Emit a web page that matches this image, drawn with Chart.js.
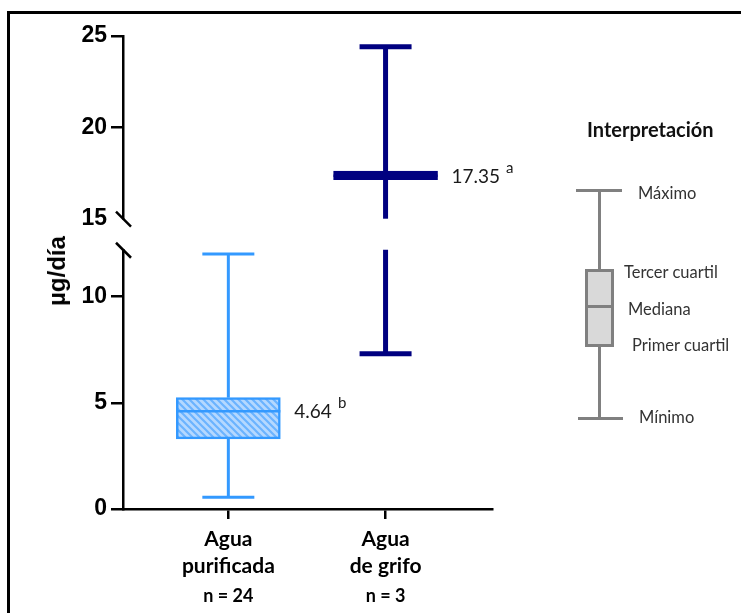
<!DOCTYPE html>
<html>
<head>
<meta charset="utf-8">
<script src="https://cdn.jsdelivr.net/npm/chart.js@4.4.1/dist/chart.umd.min.js"></script>
<style>
  body { margin: 0; background: #fff; }
  #wrap { position: relative; width: 741px; height: 613px; overflow: hidden; }
  #frame { position: absolute; left: 7px; top: 11px; width: 760px; height: 620px; border-left: 3px solid #000; border-top: 3px solid #000; }
  canvas { position: absolute; left: 0; top: 0; }
  #ytitle { position: absolute; left: 57px; top: 271px; transform: translate(-50%, -50%) rotate(-90deg);
    font: bold 24px "Liberation Sans", Arial, sans-serif; color: #000; white-space: nowrap; line-height: 1; }
  .lg { position: absolute; background: #808080; }
  .lt { position: absolute; font: 16.5px Lato, sans-serif; color: #333; line-height: 1; transform: translateY(-50%); white-space: nowrap; }
  #lgtitle { position: absolute; left: 587px; top: 129px; transform: translateY(-50%); font: bold 20px Lato, sans-serif; color: #111; line-height: 1; }
  #lgbox { position: absolute; left: 585px; top: 269px; width: 29px; height: 78px; box-sizing: border-box; border: 3px solid #808080; background: #d9d9d9; }
</style>
</head>
<body>
<div id="wrap">
  <div id="frame"></div>
  <canvas id="boxes" width="741" height="613"></canvas>
  <div id="ytitle">µg/día</div>

  <div id="lgtitle">Interpretación</div>
  <div class="lg" style="left:598px;top:191px;width:3px;height:228px;"></div>
  <div class="lg" style="left:576px;top:189px;width:46px;height:3px;"></div>
  <div class="lg" style="left:578px;top:417px;width:45px;height:3px;"></div>
  <div id="lgbox"></div>
  <div class="lg" style="left:585px;top:305px;width:29px;height:3px;"></div>
  <div class="lt" style="left:638px;top:193px;">Máximo</div>
  <div class="lt" style="left:624px;top:272px;">Tercer cuartil</div>
  <div class="lt" style="left:628px;top:309px;">Mediana</div>
  <div class="lt" style="left:632px;top:345px;">Primer cuartil</div>
  <div class="lt" style="left:639px;top:417px;">Mínimo</div>
</div>
<script>
  'use strict';

  // data
  var categories = [['Agua', 'purificada'], ['Agua', 'de grifo']];
  var sampleSizes = [24, 3];
  var minVals = [0.55, 7.31];
  var q1Vals = [3.3, 17.13];
  var medianVals = [4.6, 17.35];
  var q3Vals = [5.24, 17.6];
  var maxVals = [12.0, 24.41];
  var medianLabels = ['4.64', '17.35'];
  var groupLetters = ['b', 'a'];

  // broken y axis: two segments
  var lowRange = [0, 12.2];
  var highRange = [15, 25];
  var lowTicks = [0, 5, 10];
  var highTicks = [15, 20, 25];

  // styles
  var lightBlue = '#3399ff';
  var navy = '#000080';
  var groupColors = [lightBlue, navy];
  var whiskerWidths = [3, 5];
  var capHalf = 26;
  var boxWidth = 104;

  Chart.defaults.font.family = 'Lato, sans-serif';

  function hatch() {
    var s = 7;
    var c = document.createElement('canvas');
    c.width = s; c.height = s;
    var g = c.getContext('2d');
    g.fillStyle = '#b5d8ff';
    g.fillRect(0, 0, s, s);
    g.strokeStyle = '#6bb3ff';
    g.lineWidth = 2.2;
    g.beginPath();
    g.moveTo(0, 0); g.lineTo(s, s);
    g.moveTo(-1, s - 1); g.lineTo(1, s + 1);
    g.moveTo(s - 1, -1); g.lineTo(s + 1, 1);
    g.stroke();
    return g.createPattern(c, 'repeat');
  }

  function axisFor(v) {
    return v >= highRange[0] ? 'yHigh' : 'yLow';
  }

  var boxDatasets = categories.map(function (cat, i) {
    return {
      label: cat.join(' '),
      yAxisID: axisFor(q3Vals[i]),
      data: [{ x: i + 1, y: [q1Vals[i], q3Vals[i]] }],
      backgroundColor: i === 0 ? hatch() : navy,
      borderColor: groupColors[i],
      borderWidth: 2.5,
      borderSkipped: false,
      barThickness: boxWidth,
      grouped: false
    };
  });

  var whiskerPlugin = {
    id: 'whiskers',
    afterDatasetsDraw: function (chart) {
      var ctx = chart.ctx;
      var xs = chart.scales.x;
      var segs = [chart.scales.yLow, chart.scales.yHigh];

      function line(x0, y0, x1, y1, color, w) {
        ctx.beginPath();
        ctx.moveTo(x0, y0);
        ctx.lineTo(x1, y1);
        ctx.strokeStyle = color;
        ctx.lineWidth = w;
        ctx.stroke();
      }
      function vline(x, v0, v1, color, w) {
        segs.forEach(function (s) {
          var a = Math.max(v0, s.min), b = Math.min(v1, s.max);
          if (a >= b) return;
          line(x, s.getPixelForValue(a), x, s.getPixelForValue(b), color, w);
        });
      }
      function ypix(v) {
        return chart.scales[axisFor(v)].getPixelForValue(v);
      }

      ctx.save();
      ctx.lineCap = 'butt';
      categories.forEach(function (cat, i) {
        var x = xs.getPixelForValue(i + 1);
        var col = groupColors[i], w = whiskerWidths[i];
        vline(x, minVals[i], q1Vals[i], col, w);
        vline(x, q3Vals[i], maxVals[i], col, w);
        line(x - capHalf, ypix(minVals[i]), x + capHalf, ypix(minVals[i]), col, w);
        line(x - capHalf, ypix(maxVals[i]), x + capHalf, ypix(maxVals[i]), col, w);
        var ym = ypix(medianVals[i]);
        line(x - boxWidth / 2, ym, x + boxWidth / 2, ym, col, 2.5);

        // median value + significance letter
        ctx.fillStyle = '#1a1a1a';
        ctx.textBaseline = 'middle';
        ctx.textAlign = 'left';
        ctx.font = '19px Lato, sans-serif';
        var tx = x + boxWidth / 2 + 14;
        ctx.fillText(medianLabels[i], tx, ym + 1);
        var tw = ctx.measureText(medianLabels[i]).width;
        ctx.font = '15px Lato, sans-serif';
        ctx.fillText(groupLetters[i], tx + tw + 6, ym - 8);

        // sample size under the category label
        ctx.fillStyle = '#000';
        ctx.textAlign = 'center';
        ctx.font = 'bold 18px Lato, sans-serif';
        ctx.fillText('n = ' + sampleSizes[i], x, xs.top + 87);
      });

      // axis break marks
      var hi = chart.scales.yHigh, lo = chart.scales.yLow;
      var ax = hi.right;
      line(ax - 7, hi.bottom - 7, ax + 8, hi.bottom + 8, '#000', 2.5);
      line(ax - 7, lo.top - 7, ax + 8, lo.top + 8, '#000', 2.5);
      ctx.restore();
    }
  };

  function tickGrid(hideValue) {
    return {
      display: true,
      drawOnChartArea: false,
      drawTicks: true,
      tickLength: 12,
      lineWidth: 2.5,
      color: function (c) {
        return c.tick && c.tick.value === hideValue ? 'rgba(0,0,0,0)' : '#000';
      }
    };
  }
  var yTickFont = { family: '"Liberation Sans", Arial, sans-serif', size: 23, weight: 'bold' };
  function fixWidth(s) { s.width = 123; }

  var lowH = (lowRange[1] - lowRange[0]) * 21.25;
  var highH = (highRange[1] - highRange[0]) * 18.27;
  var gapH = 473 - lowH - highH;

  var ctx = document.getElementById('boxes');
  var chart = new Chart(ctx, {
    type: 'bar',
    data: { datasets: boxDatasets },
    plugins: [whiskerPlugin],
    options: {
      responsive: false,
      animation: false,
      layout: { padding: { top: 36, right: 249, bottom: 0, left: 0 } },
      plugins: { legend: { display: false }, tooltip: { enabled: false } },
      scales: {
        x: {
          type: 'linear',
          offset: false,
          min: 0.33,
          max: 2.677,
          afterBuildTicks: function (s) { s.ticks = [{ value: 1 }, { value: 2 }]; },
          afterFit: function (s) { s.height = 104; },
          ticks: {
            color: '#000',
            padding: 6,
            font: { size: 21, weight: 'bold', lineHeight: 1.32 },
            callback: function (v, i) {
              return categories[i];
            }
          },
          grid: { display: true, offset: false, drawOnChartArea: false, drawTicks: true, tickLength: 10, lineWidth: 2.5, color: '#000' },
          border: { display: true, color: '#000', width: 2.5 }
        },
        yLow: {
          type: 'linear',
          position: 'left',
          stack: 'y',
          stackWeight: lowH,
          min: lowRange[0],
          max: lowRange[1],
          afterBuildTicks: function (s) { s.ticks = lowTicks.map(function (v) { return { value: v }; }); },
          afterFit: fixWidth,
          ticks: { color: '#000', padding: 4, font: yTickFont },
          grid: tickGrid(null),
          border: { display: true, color: '#000', width: 2.5 }
        },
        yGap: {
          type: 'linear',
          position: 'left',
          stack: 'y',
          stackWeight: gapH,
          min: 0,
          max: 1,
          afterFit: fixWidth,
          ticks: { display: false },
          grid: { display: false },
          border: { display: false }
        },
        yHigh: {
          type: 'linear',
          position: 'left',
          stack: 'y',
          stackWeight: highH,
          min: highRange[0],
          max: highRange[1],
          afterBuildTicks: function (s) { s.ticks = highTicks.map(function (v) { return { value: v }; }); },
          afterFit: fixWidth,
          ticks: { color: '#000', padding: 4, font: yTickFont },
          grid: tickGrid(highRange[0]),
          border: { display: true, color: '#000', width: 2.5 }
        }
      }
    }
  });
</script>
</body>
</html>
